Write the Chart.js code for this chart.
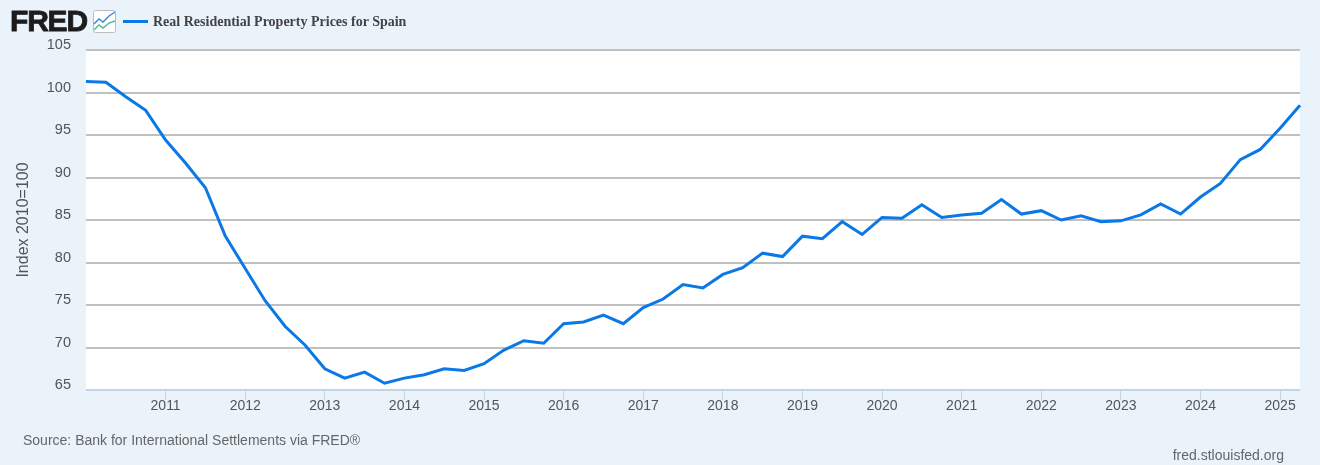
<!DOCTYPE html>
<html>
<head>
<meta charset="utf-8">
<title>Real Residential Property Prices for Spain</title>
<script src="https://cdn.jsdelivr.net/npm/chart.js@4"></script>
<style>
html, body { margin: 0; padding: 0; background: #EAF2FA; }
#wrap { position: relative; width: 1320px; height: 465px; overflow: hidden; font-family: "Liberation Sans", Arial, sans-serif; }
#myChart { position: absolute; left: 0; top: 0; }
.logo { position: absolute; left: 10px; top: 4px; font-size: 30px; font-weight: bold; color: #1c1c1c; letter-spacing: -1.2px; -webkit-text-stroke: 0.8px #1c1c1c; }
.icon { position: absolute; left: 93px; top: 10px; }
.legend { position: absolute; left: 123px; top: 13px; height: 17px; font: bold 14px "Liberation Serif", "Times New Roman", serif; color: #444; line-height: 17px; white-space: nowrap; }
.swatch { position: absolute; left: 0; top: 7px; width: 25px; height: 3px; background: #0A78E6; }
.legend span.txt { margin-left: 30px; }
.source { position: absolute; left: 23px; top: 432px; font-size: 14px; color: #666; }
.site { position: absolute; right: 36px; top: 447px; font-size: 14px; color: #666; }
</style>
</head>
<body>
<div id="wrap">
  <canvas id="myChart" width="1320" height="465"></canvas>
  <div class="logo">FRED</div>
  <svg class="icon" width="23" height="23" viewBox="0 0 23 23">
    <rect x="0.5" y="0.5" width="22" height="22" rx="2" fill="#fff" stroke="#bbb"/>
    <polyline points="1,14 6,9 10,12 16,6 22,2" fill="none" stroke="#3a86d8" stroke-width="1.4"/>
    <polyline points="1,20 6,15 10,18 16,13 22,11" fill="none" stroke="#4fb39a" stroke-width="1.4"/>
  </svg>
  <div class="legend"><div class="swatch"></div><span class="txt" id="legendText"></span></div>
  <div class="source" id="sourceText"></div>
  <div class="site" id="siteText"></div>
</div>
<script>
var seriesName = "Real Residential Property Prices for Spain";
var yTitle = "Index 2010=100";
var sourceNote = "Source: Bank for International Settlements via FRED®";
var siteNote = "fred.stlouisfed.org";

var quarters = [
  "2010-Q1","2010-Q2","2010-Q3","2010-Q4",
  "2011-Q1","2011-Q2","2011-Q3","2011-Q4",
  "2012-Q1","2012-Q2","2012-Q3","2012-Q4",
  "2013-Q1","2013-Q2","2013-Q3","2013-Q4",
  "2014-Q1","2014-Q2","2014-Q3","2014-Q4",
  "2015-Q1","2015-Q2","2015-Q3","2015-Q4",
  "2016-Q1","2016-Q2","2016-Q3","2016-Q4",
  "2017-Q1","2017-Q2","2017-Q3","2017-Q4",
  "2018-Q1","2018-Q2","2018-Q3","2018-Q4",
  "2019-Q1","2019-Q2","2019-Q3","2019-Q4",
  "2020-Q1","2020-Q2","2020-Q3","2020-Q4",
  "2021-Q1","2021-Q2","2021-Q3","2021-Q4",
  "2022-Q1","2022-Q2","2022-Q3","2022-Q4",
  "2023-Q1","2023-Q2","2023-Q3","2023-Q4",
  "2024-Q1","2024-Q2","2024-Q3","2024-Q4",
  "2025-Q1","2025-Q2"
];
var prices = [
  101.3,101.2,99.5,97.9,
  94.4,91.7,88.8,83.1,
  79.3,75.5,72.5,70.3,
  67.5,66.4,67.1,65.8,
  66.4,66.8,67.5,67.3,
  68.1,69.7,70.8,70.5,
  72.8,73.0,73.8,72.8,
  74.7,75.7,77.4,77.0,
  78.6,79.4,81.1,80.7,
  83.1,82.8,84.8,83.3,
  85.3,85.2,86.8,85.3,
  85.6,85.8,87.4,85.7,
  86.1,85.0,85.5,84.8,
  84.9,85.6,86.9,85.7,
  87.7,89.3,92.1,93.3,
  95.8,98.5
];
var yMin = 65, yMax = 105, yStep = 5;

document.getElementById('legendText').innerHTML = seriesName
document.getElementById('sourceText').innerHTML = sourceNote
document.getElementById('siteText').innerHTML = siteNote

// white plot background, FRED has page blue around it
var plotBg = {
  id: 'plotBg',
  beforeDraw: function(chart){
    var a = chart.chartArea
    chart.ctx.save()
    chart.ctx.fillStyle = '#fff'
    chart.ctx.fillRect(a.left, a.top, a.right - a.left, a.bottom - a.top)
    chart.ctx.restore()
  }
}

var totalChart = new Chart("myChart", {
  type: "line",
  data: {
    labels: quarters,
    datasets: [{
      label: seriesName,
      data: prices,
      borderColor: "#0A78E6",
      borderWidth: 3,
      pointRadius: 0,
      tension: 0,
      fill: false
    }]
  },
  plugins: [plotBg],
  options: {
    responsive: false,
    animation: false,
    layout: { padding: { top: 50, right: 20, left: 0, bottom: 0 } },
    plugins: { legend: { display: false }, tooltip: { enabled: false } },
    scales: {
      x: {
        type: "category",
        offset: false,
        afterFit: function(s){ s.height = 75 },
        afterBuildTicks: function(s){
          s.ticks = s.ticks.filter(function(t){
            var q = quarters[t.value]
            return q.slice(5) == "Q1" && q.slice(0, 4) != "2010"
          })
        },
        border: { display: false },
        grid: { drawOnChartArea: false, drawTicks: true, tickLength: 10, tickColor: "#C5D3E6", tickWidth: 1 },
        ticks: {
          autoSkip: false,
          maxRotation: 0,
          padding: -2,
          color: "#555",
          font: { family: "Liberation Sans", size: 14 },
          callback: function(v){ return quarters[v].slice(0, 4) }
        }
      },
      y: {
        min: yMin,
        max: yMax,
        afterFit: function(s){ s.width = 86 },
        border: { display: false },
        grid: {
          lineWidth: 2,
          drawTicks: false,
          color: function(c){ return c.tick && c.tick.value == yMin ? "#C5D3E6" : "#C0C0C0" }
        },
        ticks: {
          stepSize: yStep,
          padding: 15,
          labelOffset: -5,
          color: "#555",
          font: { family: "Liberation Sans", size: 14.5 }
        },
        title: {
          display: true,
          text: yTitle,
          color: "#555",
          padding: { top: 14, bottom: 0 },
          font: { family: "Liberation Sans", size: 16, weight: "normal" }
        }
      }
    }
  }
});
</script>
</body>
</html>
